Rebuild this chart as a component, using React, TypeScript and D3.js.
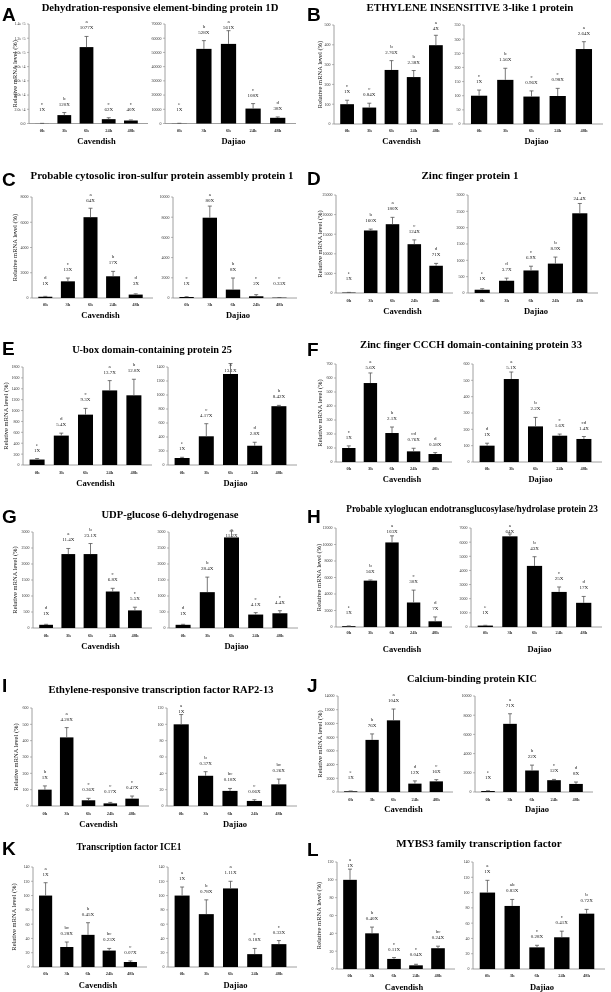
import React, { useRef, useEffect } from "react";
import * as d3 from "d3";

// time points (x categories)
const times = ["0h", "3h", "6h", "24h", "48h"];
const panelLetters = ["A", "B", "C", "D", "E", "F", "G", "H", "I", "J", "K", "L"];
const titles = [
  "Dehydration-responsive element-binding protein 1D",
  "ETHYLENE INSENSITIVE 3-like 1 protein",
  "Probable cytosolic iron-sulfur protein assembly protein 1",
  "Zinc finger protein 1",
  "U-box domain-containing protein 25",
  "Zinc finger CCCH domain-containing protein 33",
  "UDP-glucose 6-dehydrogenase",
  "Probable xyloglucan endotransglucosylase/hydrolase protein 23",
  "Ethylene-responsive transcription factor RAP2-13",
  "Calcium-binding protein KIC",
  "Transcription factor ICE1",
  "MYBS3 family transcription factor",
];
const cultivars = ["Cavendish", "Dajiao"];

// Cavendish
const cavValues = [
  [100, 11800, 107500, 6100, 4200],
  [100, 83, 273, 237, 398],
  [100, 1320, 6400, 1720, 270],
  [100, 15950, 17550, 12450, 6950],
  [100, 540, 925, 1370, 1280],
  [100, 564, 207, 76, 57],
  [100, 2310, 2310, 1140, 550],
  [100, 5620, 10250, 2970, 690],
  [100, 420, 35, 16, 45],
  [100, 7600, 10450, 1220, 1550],
  [100, 28, 45, 23, 7],
  [100, 40, 11.3, 4.1, 23.3],
];
const cavErrors = [
  [100, 3600, 15000, 2000, 800],
  [20, 22, 47, 33, 50],
  [30, 260, 710, 390, 60],
  [60, 350, 1750, 1100, 600],
  [18, 45, 115, 180, 295],
  [15, 72, 43, 22, 10],
  [15, 175, 330, 100, 100],
  [30, 80, 800, 1500, 530],
  [23, 60, 12, 6, 16],
  [50, 870, 1650, 400, 250],
  [18, 7, 17, 3, 1.5],
  [12, 7, 1.5, 1.2, 2.3],
];
const cavLetters = [
  ["c", "b", "a", "c", "c"],
  ["c", "c", "b", "b", "a"],
  ["d", "c", "a", "b", "d"],
  ["e", "b", "a", "c", "d"],
  ["e", "d", "c", "a", "b"],
  ["c", "a", "b", "cd", "d"],
  ["d", "a", "b", "c", "c"],
  ["e", "b", "a", "c", "d"],
  ["b", "a", "c", "c", "c"],
  ["e", "b", "a", "d", "c"],
  ["a", "bc", "b", "bc", "c"],
  ["a", "b", "c", "c", "bc"],
];
const cavFolds = [
  ["1X", "120X", "1077X", "62X", "40X"],
  ["1X", "0.84X", "2.76X", "2.38X", "4X"],
  ["1X", "13X", "64X", "17X", "3X"],
  ["1X", "160X", "180X", "124X", "71X"],
  ["1X", "5.4X", "9.3X", "13.7X", "12.8X"],
  ["1X", "5.6X", "2.1X", "0.76X", "0.58X"],
  ["1X", "11.4X", "23.1X", "6.8X", "5.5X"],
  ["1X", "56X", "103X", "30X", "7X"],
  ["1X", "4.20X", "0.36X", "0.17X", "0.47X"],
  ["1X", "76X", "104X", "12X", "16X"],
  ["1X", "0.28X", "0.45X", "0.23X", "0.07X"],
  ["1X", "0.40X", "0.11X", "0.04X", "0.24X"],
];
const cavMax = [140000, 500, 8000, 25000, 1800, 700, 3000, 12000, 600, 14000, 140, 120];
const cavStep = [20000, 100, 2000, 5000, 200, 100, 500, 2000, 100, 2000, 20, 20];

// Dajiao
const dajValues = [
  [100, 52500, 56000, 10500, 4000],
  [100, 156, 97, 99, 265],
  [100, 7950, 830, 170, 33],
  [100, 375, 690, 900, 2440],
  [100, 410, 1300, 275, 840],
  [100, 508, 218, 161, 141],
  [100, 1120, 2830, 420, 460],
  [100, 6410, 4320, 2480, 1710],
  [100, 37, 18.5, 6.2, 26.5],
  [100, 7100, 2240, 1230, 840],
  [100, 74, 110, 18, 32],
  [100, 82.5, 28.3, 41.5, 72.4],
];
const dajErrors = [
  [50, 5800, 9300, 3500, 600],
  [20, 41, 20, 27, 26],
  [30, 1150, 1150, 160, 15],
  [30, 80, 130, 200, 300],
  [10, 180, 150, 50, 12],
  [15, 43, 55, 10, 15],
  [15, 470, 200, 60, 80],
  [20, 170, 650, 350, 450],
  [12, 5, 3, 1.5, 6.5],
  [30, 1050, 560, 80, 200],
  [12, 20, 10, 8, 5],
  [16, 8.5, 2.7, 8, 5.6],
];
const dajLetters = [
  ["e", "b", "a", "c", "d"],
  ["c", "b", "c", "c", "a"],
  ["c", "a", "b", "c", "c"],
  ["e", "d", "c", "b", "a"],
  ["e", "c", "a", "d", "b"],
  ["d", "a", "b", "c", "cd"],
  ["d", "b", "a", "c", "c"],
  ["e", "a", "b", "c", "d"],
  ["a", "b", "bc", "c", "bc"],
  ["e", "a", "b", "c", "d"],
  ["a", "b", "a", "c", "c"],
  ["a", "ab", "c", "c", "b"],
];
const dajFolds = [
  ["1X", "528X", "561X", "108X", "38X"],
  ["1X", "1.56X", "0.96X", "0.98X", "2.64X"],
  ["1X", "80X", "8X", "2X", "0.33X"],
  ["1X", "3.7X", "6.9X", "8.9X", "24.4X"],
  ["1X", "4.17X", "13.1X", "2.8X", "8.42X"],
  ["1X", "5.1X", "2.2X", "1.6X", "1.4X"],
  ["1X", "28.4X", "11.2X", "4.1X", "4.4X"],
  ["1X", "64X", "43X", "25X", "17X"],
  ["1X", "0.37X", "0.18X", "0.06X", "0.26X"],
  ["1X", "71X", "22X", "12X", "8X"],
  ["1X", "0.78X", "1.11X", "0.18X", "0.33X"],
  ["1X", "0.83X", "0.28X", "0.41X", "0.72X"],
];
const dajMax = [70000, 350, 10000, 3000, 1400, 600, 3000, 7000, 120, 10000, 140, 140];
const dajStep = [10000, 50, 2000, 500, 200, 100, 500, 1000, 20, 2000, 20, 20];

// panel placement on the page (pixels)
const layout = [
  { ox: 0, tx: 160, tw: 237, ty: 11, ly: 21, top: 24, bottom: 123.5, lx0: 29, lx1: 148, rx0: 165, rx1: 296, tickY: 132, subY: 144, ylabX: 15 },
  { ox: 305, tx: 470, tw: 207, ty: 11, ly: 21, top: 25, bottom: 124, lx0: 334, lx1: 453, rx0: 464, rx1: 603, tickY: 132, subY: 144, ylabX: 320 },
  { ox: 0, tx: 162, tw: 263, ty: 179, ly: 186, top: 197, bottom: 298, lx0: 32, lx1: 153, rx0: 173, rx1: 297, tickY: 306, subY: 318, ylabX: 15 },
  { ox: 305, tx: 470, tw: 97, ty: 179, ly: 185, top: 195, bottom: 293, lx0: 336, lx1: 453, rx0: 468, rx1: 598, tickY: 302, subY: 314, ylabX: 320 },
  { ox: 0, tx: 152, tw: 160, ty: 353, ly: 355, top: 367, bottom: 465, lx0: 23, lx1: 152, rx0: 168, rx1: 297, tickY: 474, subY: 486, ylabX: 6 },
  { ox: 305, tx: 471, tw: 222, ty: 348, ly: 356, top: 364, bottom: 462, lx0: 336, lx1: 452, rx0: 473, rx1: 602, tickY: 470, subY: 482, ylabX: 320 },
  { ox: 0, tx: 170, tw: 137, ty: 518, ly: 523, top: 532, bottom: 628, lx0: 33, lx1: 152, rx0: 169, rx1: 298, tickY: 637, subY: 649, ylabX: 15 },
  { ox: 305, tx: 472, tw: 252, ty: 512, ly: 523, top: 528, bottom: 627, lx0: 336, lx1: 452, rx0: 471, rx1: 602, tickY: 634, subY: 652, ylabX: 319 },
  { ox: 0, tx: 161, tw: 225, ty: 693, ly: 692, top: 708, bottom: 806, lx0: 32, lx1: 149, rx0: 167, rx1: 297, tickY: 815, subY: 827, ylabX: 16 },
  { ox: 305, tx: 472, tw: 130, ty: 682, ly: 692, top: 696, bottom: 792, lx0: 338, lx1: 453, rx0: 475, rx1: 593, tickY: 801, subY: 812, ylabX: 320 },
  { ox: 0, tx: 129, tw: 105, ty: 850, ly: 855, top: 867, bottom: 967, lx0: 33, lx1: 147, rx0: 168, rx1: 297, tickY: 975, subY: 988, ylabX: 14 },
  { ox: 305, tx: 479, tw: 172, ty: 847, ly: 856, top: 862, bottom: 969, lx0: 337, lx1: 455, rx0: 473, rx1: 605, tickY: 977, subY: 990, ylabX: 319 },
];

const W = 611;
const H = 992;
const SERIF = "'Liberation Serif', 'Times New Roman', serif";

function drawChart(
  svg: d3.Selection<SVGSVGElement, unknown, null, undefined>,
  o: {
    values: number[];
    errors: number[];
    letters: string[];
    folds: string[];
    max: number;
    step: number;
    x0: number;
    x1: number;
    top: number;
    bottom: number;
    tickY: number;
    expFmt: boolean;
  }
) {
  const x = d3
    .scaleBand<string>()
    .domain(times)
    .range([o.x0 + 2, o.x1 - 6])
    .paddingInner(0.38)
    .paddingOuter(0.19);
  const y = d3.scaleLinear().domain([0, o.max]).range([o.bottom, o.top]);
  const g = svg.append("g");

  // y ticks
  const ticks = d3.range(0, o.max + o.step / 2, o.step);
  ticks.forEach((t) => {
    g.append("line")
      .attr("x1", o.x0 - 2)
      .attr("x2", o.x0)
      .attr("y1", y(t))
      .attr("y2", y(t))
      .attr("stroke", "#888")
      .attr("stroke-width", 0.6);
    g.append("text")
      .attr("x", o.x0 - 3.5)
      .attr("y", y(t) + 1.4)
      .attr("text-anchor", "end")
      .style("font-family", SERIF)
      .style("font-size", "4px")
      .style("fill", "#333")
      .text(o.expFmt ? (t === 0 ? "0.0" : t.toExponential(1)) : String(t));
  });

  // axis lines
  g.append("line")
    .attr("x1", o.x0)
    .attr("x2", o.x0)
    .attr("y1", o.top)
    .attr("y2", o.bottom)
    .attr("stroke", "#888")
    .attr("stroke-width", 0.8);
  g.append("line")
    .attr("x1", o.x0)
    .attr("x2", o.x1)
    .attr("y1", o.bottom)
    .attr("y2", o.bottom)
    .attr("stroke", "#888")
    .attr("stroke-width", 0.8);

  times.forEach((t, i) => {
    const v = o.values[i];
    const e = o.errors[i];
    const cx = (x(t) as number) + x.bandwidth() / 2;

    // bar
    g.append("rect")
      .attr("x", x(t) as number)
      .attr("y", y(v))
      .attr("width", x.bandwidth())
      .attr("height", o.bottom - y(v))
      .attr("fill", "#000");

    // error bar (upper only)
    const ye = y(v + e);
    g.append("line")
      .attr("x1", cx)
      .attr("x2", cx)
      .attr("y1", y(v))
      .attr("y2", ye)
      .attr("stroke", "#555")
      .attr("stroke-width", 0.8);
    g.append("line")
      .attr("x1", cx - 2)
      .attr("x2", cx + 2)
      .attr("y1", ye)
      .attr("y2", ye)
      .attr("stroke", "#555")
      .attr("stroke-width", 0.8);

    // significance letter and fold change
    const foldY = Math.max(Math.min(ye - 7, o.bottom - 13), o.top + 5);
    g.append("text")
      .attr("x", cx)
      .attr("y", foldY)
      .attr("text-anchor", "middle")
      .style("font-family", SERIF)
      .style("font-size", "5px")
      .style("fill", "#222")
      .text(o.folds[i]);
    g.append("text")
      .attr("x", cx)
      .attr("y", foldY - 6)
      .attr("text-anchor", "middle")
      .style("font-family", SERIF)
      .style("font-size", "5px")
      .style("fill", "#222")
      .text(o.letters[i]);

    // x tick label
    g.append("text")
      .attr("x", cx)
      .attr("y", o.tickY)
      .attr("text-anchor", "middle")
      .style("font-family", SERIF)
      .style("font-size", "4.5px")
      .style("font-weight", "bold")
      .style("fill", "#333")
      .text(t);
  });
}

export default function App() {
  const svgRef = useRef<SVGSVGElement>(null);

  useEffect(() => {
    if (!svgRef.current) return;
    const svg = d3.select(svgRef.current);
    svg.selectAll("*").remove();

    svg.append("rect").attr("width", W).attr("height", H).attr("fill", "#fff");

    layout.forEach((p, k) => {
      // panel letter
      svg
        .append("text")
        .attr("x", p.ox + 2)
        .attr("y", p.ly)
        .style("font-family", "'Liberation Sans', Arial, sans-serif")
        .style("font-size", "19px")
        .style("font-weight", "bold")
        .style("fill", "#000")
        .text(panelLetters[k]);

      // title: size the font so the title spans the measured width
      const title = svg
        .append("text")
        .attr("x", p.tx)
        .attr("y", p.ty)
        .attr("text-anchor", "middle")
        .style("font-family", SERIF)
        .style("font-size", "10px")
        .style("font-weight", "bold")
        .style("fill", "#000")
        .text(titles[k]);
      const len = (title.node() as SVGTextElement).getComputedTextLength();
      if (len > 0) title.style("font-size", `${Math.min(11, (10 * p.tw) / len).toFixed(2)}px`);

      // y axis label
      svg
        .append("text")
        .attr("transform", `translate(${p.ylabX},${(p.top + p.bottom) / 2}) rotate(-90)`)
        .attr("text-anchor", "middle")
        .attr("dy", "0.35em")
        .style("font-family", SERIF)
        .style("font-size", "6.5px")
        .style("fill", "#111")
        .text("Relative mRNA level (%)");

      drawChart(svg, {
        values: cavValues[k],
        errors: cavErrors[k],
        letters: cavLetters[k],
        folds: cavFolds[k],
        max: cavMax[k],
        step: cavStep[k],
        x0: p.lx0,
        x1: p.lx1,
        top: p.top,
        bottom: p.bottom,
        tickY: p.tickY,
        expFmt: k === 0,
      });
      drawChart(svg, {
        values: dajValues[k],
        errors: dajErrors[k],
        letters: dajLetters[k],
        folds: dajFolds[k],
        max: dajMax[k],
        step: dajStep[k],
        x0: p.rx0,
        x1: p.rx1,
        top: p.top,
        bottom: p.bottom,
        tickY: p.tickY,
        expFmt: false,
      });

      // cultivar names
      svg
        .append("text")
        .attr("x", (p.lx0 + p.lx1) / 2 + 8)
        .attr("y", p.subY)
        .attr("text-anchor", "middle")
        .style("font-family", SERIF)
        .style("font-size", "8.5px")
        .style("font-weight", "bold")
        .style("fill", "#000")
        .text(cultivars[0]);
      svg
        .append("text")
        .attr("x", (p.rx0 + p.rx1) / 2 + 3)
        .attr("y", p.subY)
        .attr("text-anchor", "middle")
        .style("font-family", SERIF)
        .style("font-size", "8.5px")
        .style("font-weight", "bold")
        .style("fill", "#000")
        .text(cultivars[1]);
    });
  }, []);

  return (
    <svg
      ref={svgRef}
      width={W}
      height={H}
      viewBox={`0 0 ${W} ${H}`}
      style={{ position: "absolute", left: 0, top: 0, display: "block", willChange: "transform" }}
    />
  );
}
